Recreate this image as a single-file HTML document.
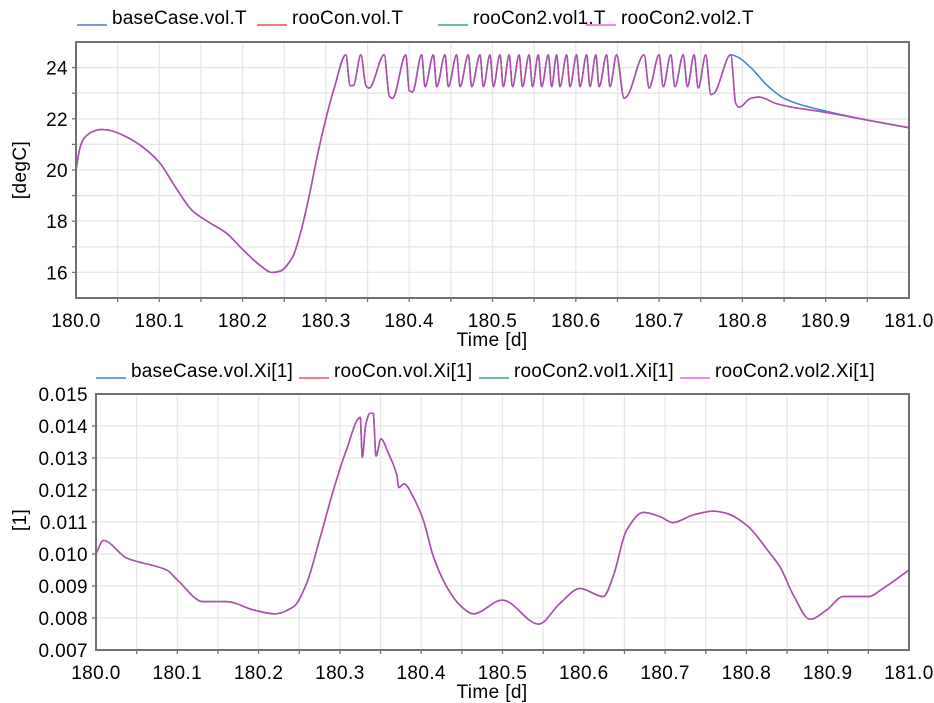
<!DOCTYPE html>
<html><head><meta charset="utf-8">
<style>
html,body{margin:0;padding:0;background:#fff;}
svg{display:block;font-family:"Liberation Sans",sans-serif;}
</style></head>
<body>
<svg id="chart" width="934" height="703" viewBox="0 0 934 703"></svg>
<script>
// ---------- data: top chart (temperature) ----------
const topSeriesNames = ["baseCase.vol.T","rooCon.vol.T","rooCon2.vol1.T","rooCon2.vol2.T"];
const topT = [180.0,180.005,180.01,180.02,180.03,180.04,180.06,180.08,180.1,180.12,180.14,180.16,180.18,180.2,180.22,180.235,180.245,180.26,180.27,180.28,180.29,180.30,180.31,
180.324,180.329,180.333,180.342,180.348,180.352,180.370,180.376,180.380,180.396,180.400,180.404,
180.415,180.419,180.429,180.433,180.443,180.447,180.457,180.461,180.471,180.475,180.485,180.489,180.497,180.501,180.509,180.513,180.520,180.524,180.532,180.536,180.544,180.548,180.555,180.559,180.567,180.571,180.577,180.581,180.589,180.593,180.601,180.605,180.613,180.617,180.624,180.628,180.637,180.641,
180.649,180.658,180.662,180.682,180.688,180.700,180.705,180.714,180.719,180.729,180.734,180.742,180.747,180.756,180.762,180.766,180.786,
180.792,180.796,180.81,180.82,180.84,180.86,180.88,180.9,180.95,181.0];
const topV = [20.0,20.9,21.25,21.5,21.58,21.55,21.3,20.9,20.3,19.3,18.4,17.95,17.55,16.9,16.3,16.0,16.05,16.6,17.6,19.0,20.6,22.0,23.2,
24.5,23.3,23.3,24.5,23.3,23.2,24.5,22.9,22.8,24.5,23.1,23.05,
24.5,23.25,24.5,23.25,24.5,23.25,24.5,23.25,24.5,23.25,24.5,23.25,24.5,23.25,24.5,23.25,24.5,23.25,24.5,23.25,24.5,23.25,24.5,23.25,24.5,23.25,24.5,23.25,24.5,23.25,24.5,23.25,24.5,23.25,24.5,23.25,24.5,23.25,
24.5,22.8,22.9,24.5,23.2,24.5,23.25,24.5,23.25,24.5,23.25,24.5,23.2,24.5,22.95,23.0,24.5,
22.6,22.45,22.8,22.85,22.6,22.45,22.35,22.25,21.95,21.65];
const baseTailT = [180.786,180.795,180.81,180.83,180.85,180.87,180.9,180.95,181.0];
const baseTailV = [24.5,24.4,24.0,23.3,22.8,22.55,22.3,21.95,21.65];
const topXTicks = ["180.0","180.1","180.2","180.3","180.4","180.5","180.6","180.7","180.8","180.9","181.0"];
const topYTicks = [16,18,20,22,24];

// ---------- data: bottom chart (Xi) ----------
const botSeriesNames = ["baseCase.vol.Xi[1]","rooCon.vol.Xi[1]","rooCon2.vol1.Xi[1]","rooCon2.vol2.Xi[1]"];
const botT = [180.0,180.009,180.038,180.087,180.1,180.132,180.161,180.194,180.220,180.243,180.259,180.276,180.292,180.308,180.325,180.3276,180.3317,180.337,180.341,180.3444,180.3505,180.3596,180.370,180.3723,180.379,180.390,180.4026,180.415,180.4313,180.4477,
180.4641,180.4998,180.5445,180.5707,180.5953,180.624,180.636,180.6527,180.6732,180.6937,180.7093,180.7347,180.7593,180.7757,180.8003,180.829,180.8413,180.8577,180.8782,180.8987,180.9192,180.950,180.9684,181.0];
const botV = [0.0100,0.01042,0.00987,0.0095,0.00919,0.00851,0.00851,0.00825,0.00813,0.00835,0.00908,0.01054,0.0120,0.01325,0.01427,0.01302,0.01403,0.0144,0.0144,0.01306,0.0136,0.01315,0.01247,0.01208,0.01219,0.01179,0.01106,0.00992,0.00898,0.0084,
0.00813,0.00856,0.00781,0.00846,0.00892,0.00867,0.00929,0.01075,0.0113,0.01117,0.01098,0.01122,0.01134,0.01127,0.0109,0.01002,0.0096,0.00872,0.00796,0.00825,0.00867,0.00867,0.00893,0.0095];
const botXTicks = ["180.0","180.1","180.2","180.3","180.4","180.5","180.6","180.7","180.8","180.9","181.0"];
const botYTicks = ["0.007","0.008","0.009","0.010","0.011","0.012","0.013","0.014","0.015"];

const colors = ["#6fa0e0","#f08080","#66c09a","#e88ee0"];
const NS = "http://www.w3.org/2000/svg";
const svg = document.getElementById("chart");
function mk(tag, attrs, parent){const e=document.createElementNS(NS,tag);for(const k in attrs)e.setAttribute(k,attrs[k]);(parent||svg).appendChild(e);return e;}

function monoPath(px, py){
  const n=px.length; if(n<2) return "";
  const d=[], m=new Array(n);
  for(let i=0;i<n-1;i++){const dx=px[i+1]-px[i]; d.push(dx===0?0:(py[i+1]-py[i])/dx);}
  m[0]=d[0]; m[n-1]=d[n-2];
  for(let i=1;i<n-1;i++){ if(d[i-1]*d[i]<=0) m[i]=0; else { m[i]=2/(1/d[i-1]+1/d[i]); } }
  let s="M"+px[0].toFixed(2)+","+py[0].toFixed(2);
  for(let i=0;i<n-1;i++){const h=px[i+1]-px[i];
    s+=" C"+(px[i]+h/3).toFixed(2)+","+(py[i]+m[i]*h/3).toFixed(2)+" "+(px[i+1]-h/3).toFixed(2)+","+(py[i+1]-m[i+1]*h/3).toFixed(2)+" "+px[i+1].toFixed(2)+","+py[i+1].toFixed(2);}
  return s;
}

function drawPanel(cfg){
  const g = mk("g",{});
  
  
  const {x0,x1,y0,y1,ymin,ymax,ystep} = cfg;
  const sx = t => x0 + (t-180)/(1)*(x1-x0);
  const sy = v => y1 - (v-ymin)/(ymax-ymin)*(y1-y0);
  for(let i=1;i<20;i++){const x=x0+i*(x1-x0)/20; const l=mk("line",{x1:x,x2:x,y1:y0,y2:y1,stroke:"#e6e6e6","stroke-width":1.3},g);
     
    mk("line",{x1:x,x2:x,y1:y1,y2:y1+4,stroke:"#707070","stroke-width":1.3},g);}
  const nY = Math.round((ymax-ymin)/ystep);
  for(let i=1;i<nY;i++){const y=y1-i*(y1-y0)/nY; const l=mk("line",{x1:x0,x2:x1,y1:y,y2:y,stroke:"#e6e6e6","stroke-width":1.3},g);
     
    mk("line",{x1:x0-4,x2:x0,y1:y,y2:y,stroke:"#707070","stroke-width":1.3},g);}
  cfg.series.forEach((s,i)=>{
    const d = monoPath(s.t.map(sx), s.v.map(sy));
    const p = mk("path",{d:d,fill:"none",stroke:s.color,"stroke-width":1.5,"stroke-linejoin":"round"},g);
    
    
  });
  const fr = mk("rect",{x:x0,y:y0,width:x1-x0,height:y1-y0,fill:"none",stroke:"#707070","stroke-width":2},g);
   
  cfg.xTicks.forEach((lab,i)=>{const x=x0+i*(x1-x0)/10; const t=mk("text",{x:x,y:y1+29,"text-anchor":"middle","font-size":19,"letter-spacing":0.4,fill:"#000"},g); t.textContent=lab;
     });
  cfg.yTicks.forEach(lab=>{const y=sy(parseFloat(lab)); const t=mk("text",{x:x0-8,y:y+7,"text-anchor":"end","font-size":19,"letter-spacing":0.4,fill:"#000"},g); t.textContent=lab;
     });
  const xt = mk("text",{x:492,y:y1+48,"text-anchor":"middle","font-size":19,"letter-spacing":0.4},g); xt.textContent="Time [d]";
   
  const yt = mk("text",{x:0,y:0,"text-anchor":"middle","font-size":19,"letter-spacing":0.4,transform:`translate(26,${cfg.ylabY}) rotate(-90)`},g); yt.textContent=cfg.ylab;
   
  cfg.legend.forEach((L,i)=>{
    const lg = mk("g",{},g);
    
    
    mk("line",{x1:L.x,x2:L.x+30,y1:cfg.legY+7,y2:cfg.legY+7,stroke:colors[i],"stroke-width":2},lg);
    const t = mk("text",{x:L.x+35,y:cfg.legY+6,"font-size":19,"letter-spacing":0.2},lg); t.textContent=L.name;
  });
}

const topBaseN = topT.filter(t=>t<=180.786).length;
drawPanel({name:"temperature-panel",x0:76,x1:909,y0:42,y1:298,ymin:15,ymax:25,ystep:1,
  xTicks:topXTicks,yTicks:topYTicks.map(String),ylab:"[degC]",ylabY:170,legY:18,
  legend:[{x:77,name:topSeriesNames[0]},{x:257,name:topSeriesNames[1]},{x:438,name:topSeriesNames[2]},{x:586,name:topSeriesNames[3]}],
  series:[
    {t:topT.slice(0,topBaseN).concat(baseTailT.slice(1)),v:topV.slice(0,topBaseN).concat(baseTailV.slice(1)),color:"#3d7fd8",dname:"series-basecase-T"},
    {t:topT,v:topV,color:"#f08080",dname:"series-roocon-T"},
    {t:topT,v:topV,color:"#66c09a",dname:"series-roocon2-vol1-T"},
    {t:topT,v:topV,color:"#b04cb0",dname:"series-roocon2-vol2-T"}]});

drawPanel({name:"humidity-panel",x0:96,x1:909,y0:394,y1:650,ymin:0.007,ymax:0.015,ystep:0.001,
  xTicks:botXTicks,yTicks:botYTicks,ylab:"[1]",ylabY:520,legY:371,
  legend:[{x:96,name:botSeriesNames[0]},{x:299,name:botSeriesNames[1]},{x:479,name:botSeriesNames[2]},{x:680,name:botSeriesNames[3]}],
  series:[
    {t:botT,v:botV,color:"#6fa0e0",dname:"series-basecase-Xi"},
    {t:botT,v:botV,color:"#f08080",dname:"series-roocon-Xi"},
    {t:botT,v:botV,color:"#66c09a",dname:"series-roocon2-vol1-Xi"},
    {t:botT,v:botV,color:"#b04cb0",dname:"series-roocon2-vol2-Xi"}]});
</script>
</body></html>
